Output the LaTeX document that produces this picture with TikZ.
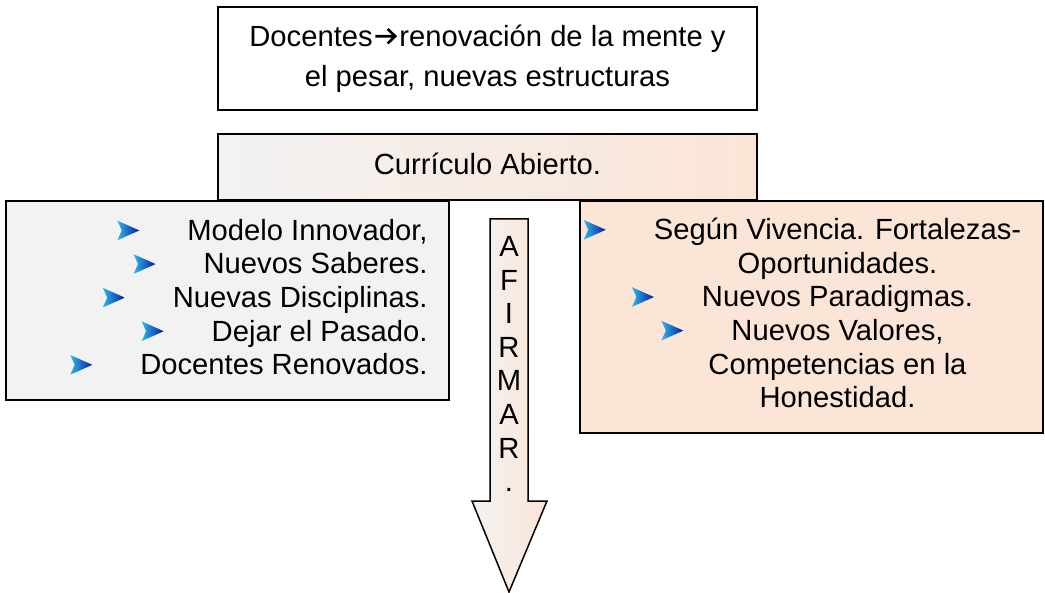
\documentclass[tikz,border=0pt]{standalone}
\usepackage{fontspec}
\setmainfont{Liberation Sans}
\usetikzlibrary{positioning,calc}

\definecolor{grisclaro}{HTML}{F2F2F2}
\definecolor{durazno}{HTML}{FBE5D6}
\definecolor{celeste}{HTML}{2CB8E4}
\definecolor{azul}{HTML}{0A18A8}

% blue arrow-head bullet
\newcommand{\vineta}{\tikz[baseline=0pt]\shade[left color=celeste,right color=azul]
  (0,9.8pt) -- (11pt,4.9pt) -- (0,0pt) -- (2.2pt,4.9pt) -- cycle;}
\newcommand{\conpunto}[1]{\llap{\vineta\hspace{24pt}}#1}
% chevron arrow inside the header text
\newcommand{\flechita}{\kern0.6pt\tikz[baseline=0pt]\draw[line width=1.3pt]
  (0,5pt) -- (10pt,5pt) (6.2pt,8.6pt) -- (10pt,5pt) -- (6.2pt,1.4pt);\kern1.4pt}

\begin{document}
\begin{tikzpicture}[
  x=0.5pt, y=-0.5pt,
  font=\fontsize{14.6pt}{16.8pt}\selectfont,
  caja/.style={draw,line width=0.75pt,inner sep=0pt,align=center},
  lista/.style={inner sep=0pt,align=#1},
  flechagrande/.style={draw,line width=0.75pt,left color=grisclaro,right color=durazno},
]
  \useasboundingbox (0,0) rectangle (1045,593);

  % Header and open curriculum.
  \node[caja,minimum width=269.5pt,minimum height=51.5pt,
        font=\fontsize{14.6pt}{20pt}\selectfont] (docentes) at (487.5,58.5)
    {Docentes\flechita renovación de la mente y\\el pesar, nuevas estructuras};
  \node[caja,minimum width=269.5pt,minimum height=33pt,text height=10.5pt,text depth=2.5pt,
        left color=grisclaro,right color=durazno] (curriculo) at (487.5,167)
    {Currículo Abierto.};

  % Two lists underneath.
  \node[caja,fill=grisclaro,minimum width=221.5pt,minimum height=99.5pt] (modelo) at (227.5,300.5) {};
  \node[lista=right,anchor=east] (modelotxt) at (428,297)
    {\conpunto{Modelo Innovador,}\\
     \conpunto{Nuevos Saberes.}\\
     \conpunto{Nuevas Disciplinas.}\\
     \conpunto{Dejar el Pasado.}\\
     \conpunto{Docentes Renovados.}};

  \node[caja,fill=durazno,minimum width=231.5pt,minimum height=116pt] (vivencia) at (811.5,317) {};
  \node[lista=center] (vivenciatxt) at (837.5,313)
    {\conpunto{Según Vivencia. Fortalezas-}\\
     Oportunidades.\\
     \conpunto{Nuevos Paradigmas.}\\
     \conpunto{Nuevos Valores,}\\
     Competencias en la\\
     Honestidad.};

  % Block arrow with stacked letters.
  \draw[flechagrande] (490,219) -- (490,501) -- (472,501) -- (509,592)
    -- (547,501) -- (528,501) -- (528,219) -- cycle;
  \node[lista=center] (afirmar) at (509,364) {A\\F\\I\\R\\M\\A\\R\\.};

\end{tikzpicture}
\end{document}
